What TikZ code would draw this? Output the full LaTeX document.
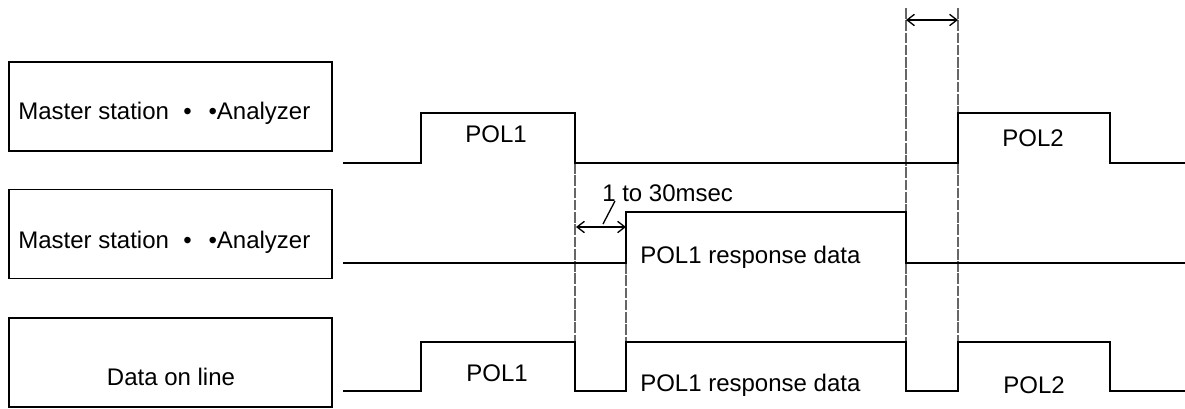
\documentclass[tikz,border=0pt]{standalone}
\usepackage{fontspec}
\setmainfont{Liberation Sans}
\usetikzlibrary{arrows.meta}
\begin{document}
\begin{tikzpicture}[x=0.75pt,y=-0.75pt,
  sig/.style={line width=1.6pt, line join=miter},
  lbox/.style={draw, line width=1.2pt, minimum width=242.25pt, minimum height=66.75pt, inner sep=0pt},
  txt/.style={inner sep=0pt, font=\fontsize{18}{21}\selectfont},
  guide/.style={draw=black!60, line width=0.8pt, dash pattern=on 8pt off 1.2pt},
  dim/.style={line width=1pt, {Straight Barb[length=5.5pt,width=8.5pt]}-{Straight Barb[length=5.5pt,width=8.5pt]}}]
\useasboundingbox (0,0) rectangle (1185,409);
% label boxes
\node[lbox] (b1) at (170.5,106.5) {};
\node[lbox] (b2) at (170.5,234) {};
\node[lbox] (b3) at (170.5,362.5) {};
\node[txt, anchor=west] (t1) at (18,113) {Master station\hspace{0.6em}•\hspace{0.7em}•Analyzer};
\node[txt, anchor=west] (t2) at (18,242) {Master station\hspace{0.6em}•\hspace{0.7em}•Analyzer};
\node[txt] (t3) at (171,377) {Data on line};
% guide lines
\coordinate (g1a) at (575,163); \coordinate (g1b) at (575,342);
\coordinate (g2a) at (626,263); \coordinate (g2b) at (626,342);
\coordinate (g3a) at (906,8);   \coordinate (g3b) at (906,212);
\coordinate (g3c) at (906,263); \coordinate (g3d) at (906,342);
\coordinate (g4a) at (958,8);   \coordinate (g4b) at (958,113);
\coordinate (g4c) at (958,163); \coordinate (g4d) at (958,342);
\draw[guide] (g1a) -- (g1b);
\draw[guide] (g2a) -- (g2b);
\draw[guide] (g3a) -- (g3b);
\draw[guide] (g3c) -- (g3d);
\draw[guide] (g4a) -- (g4b);
\draw[guide] (g4c) -- (g4d);
% signals
\draw[sig] (343,163) -- (421,163) -- (421,113) -- (575,113) -- (575,163) -- (958,163) -- (958,113) -- (1110,113) -- (1110,163) -- (1185,163);
\draw[sig] (343,263) -- (626,263) -- (626,212) -- (906,212) -- (906,263) -- (1185,263);
\draw[sig] (343,391) -- (421,391) -- (421,342) -- (575,342) -- (575,391) -- (626,391) -- (626,342) -- (906,342) -- (906,391) -- (958,391) -- (958,342) -- (1110,342) -- (1110,391) -- (1185,391);
% signal labels
\node[txt] (p1) at (496,134) {POL1};
\node[txt] (p2) at (1033,138) {POL2};
\node[txt, anchor=west] (r1) at (640,257) {POL1 response data};
\node[txt] (p3) at (497,373) {POL1};
\node[txt, anchor=west] (r2) at (640,385) {POL1 response data};
\node[txt] (p4) at (1034,385) {POL2};
% dimension arrows
\coordinate (a1) at (906,20); \coordinate (a2) at (958,20);
\draw[dim] (a1) -- (a2);
\coordinate (a3) at (576,227); \coordinate (a4) at (626,227);
\draw[dim] (a3) -- (a4);
\node[txt, anchor=west] (ms) at (602,193) {1 to 30msec};
\coordinate (l1) at (603,224); \coordinate (l2) at (615,201);
\draw[line width=1pt] (l1) -- (l2);
\end{tikzpicture}
\end{document}
